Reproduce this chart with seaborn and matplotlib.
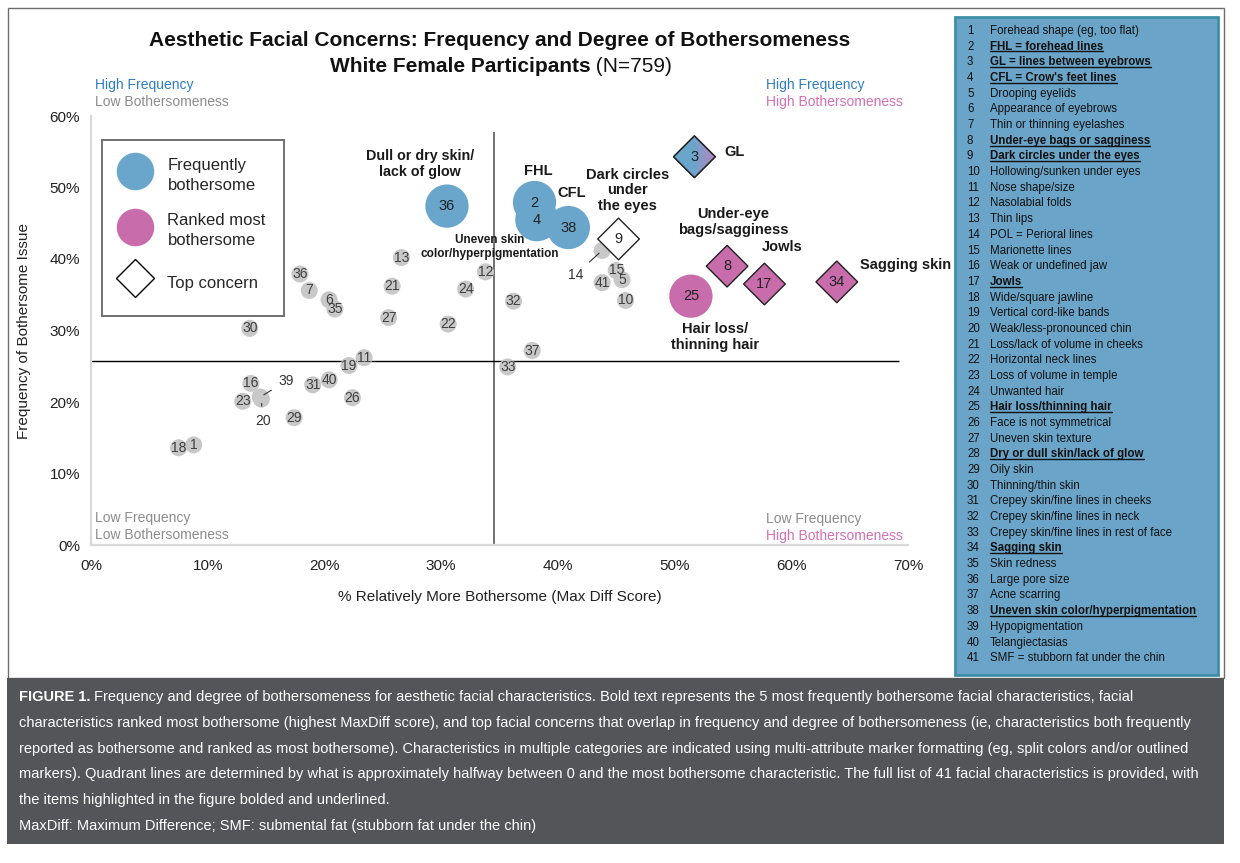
import matplotlib
matplotlib.use('Agg')
import matplotlib.pyplot as plt
import numpy as np
import pandas as pd
import seaborn as sns
from matplotlib import font_manager
from matplotlib.colors import LinearSegmentedColormap
from matplotlib.lines import Line2D
from matplotlib.patches import Rectangle, RegularPolygon
from matplotlib.ticker import FuncFormatter
from matplotlib.transforms import IdentityTransform, ScaledTranslation

W, H = 1240, 863

# ---- values (percent) ----
other_ids = ['1', '5', '6', '7', '10', '11', '12', '13', '14', '15', '16',
             '18', '19', '20', '21', '22', '23', '24', '26', '27', '29', '30',
             '31', '32', '33', '35', '36', '37', '39', '40', '41']
other_x = [8.8, 45.5, 20.4, 18.7, 45.8, 23.4, 33.8, 26.6, 43.8, 45.0, 13.7,
           7.5, 22.1, 14.6, 25.8, 30.6, 13.0, 32.1, 22.4, 25.5, 17.4, 13.6,
           19.0, 36.2, 35.7, 20.9, 17.9, 37.8, 14.5, 20.4, 43.8]
other_y = [14.0, 37.1, 34.3, 35.6, 34.2, 26.2, 38.2, 40.2, 41.2, 38.4, 22.6,
           13.6, 25.1, 20.4, 36.2, 30.9, 20.1, 35.8, 20.6, 31.8, 17.8, 30.3,
           22.4, 34.1, 24.9, 33.0, 37.9, 27.2, 20.7, 23.1, 36.7]

freq_ids = ['36', '2', '4', '38']
freq_x = [30.5, 38.0, 38.2, 40.9]
freq_y = [47.4, 47.9, 45.5, 44.4]

rank_ids = ['25']
rank_x = [51.4]
rank_y = [34.8]

top_ids = ['3', '9', '8', '17', '34']
top_x = [51.7, 45.2, 54.5, 57.7, 63.9]
top_y = [54.3, 42.8, 39.0, 36.5, 36.8]
top_kind = ['both', 'top', 'ranked', 'ranked', 'ranked']

quad_x = 34.5
quad_y = 25.7

characteristics = [
    'Forehead shape (eg, too flat)', 'FHL = forehead lines',
    'GL = lines between eyebrows', "CFL = Crow's feet lines",
    'Drooping eyelids', 'Appearance of eyebrows', 'Thin or thinning eyelashes',
    'Under-eye bags or sagginess', 'Dark circles under the eyes',
    'Hollowing/sunken under eyes', 'Nose shape/size', 'Nasolabial folds',
    'Thin lips', 'POL = Perioral lines', 'Marionette lines',
    'Weak or undefined jaw', 'Jowls', 'Wide/square jawline',
    'Vertical cord-like bands', 'Weak/less-pronounced chin',
    'Loss/lack of volume in cheeks', 'Horizontal neck lines',
    'Loss of volume in temple', 'Unwanted hair', 'Hair loss/thinning hair',
    'Face is not symmetrical', 'Uneven skin texture',
    'Dry or dull skin/lack of glow', 'Oily skin', 'Thinning/thin skin',
    'Crepey skin/fine lines in cheeks', 'Crepey skin/fine lines in neck',
    'Crepey skin/fine lines in rest of face', 'Sagging skin', 'Skin redness',
    'Large pore size', 'Acne scarring', 'Uneven skin color/hyperpigmentation',
    'Hypopigmentation', 'Telangiectasias', 'SMF = stubborn fat under the chin']
highlighted = [2, 3, 4, 8, 9, 17, 25, 28, 34, 38]

caption_lines = [
    'Frequency and degree of bothersomeness for aesthetic facial characteristics. '
    'Bold text represents the 5 most frequently bothersome facial characteristics, facial',
    'characteristics ranked most bothersome (highest MaxDiff score), and top facial concerns '
    'that overlap in frequency and degree of bothersomeness (ie, characteristics both frequently',
    'reported as bothersome and ranked as most bothersome). Characteristics in multiple categories '
    'are indicated using multi-attribute marker formatting (eg, split colors and/or outlined',
    'markers). Quadrant lines are determined by what is approximately halfway between 0 and the '
    'most bothersome characteristic. The full list of 41 facial characteristics is provided, with',
    'the items highlighted in the figure bolded and underlined.',
    'MaxDiff: Maximum Difference; SMF: submental fat (stubborn fat under the chin)']

BLUE = '#6aa6cc'
PINK = '#c96cac'
GRAY = '#c8c8c8'
Q_BLUE = '#2e7dc2'
Q_GRAY = '#8c8c8c'
Q_PINK = '#d36fb5'

sns.set_theme(style='white')
plt.rcParams['font.family'] = ['Liberation Sans', 'DejaVu Sans']

fig = plt.figure(figsize=(W / 100, H / 100), dpi=100)


def fx(x):
    return x / W


def fy(y):
    return 1 - y / H


# frame, list panel and caption band
fig.add_artist(Rectangle((fx(8), fy(678)), fx(1224) - fx(8), fy(8) - fy(678),
                         transform=fig.transFigure, fill=False,
                         edgecolor='#6e6e6e', lw=1))
fig.add_artist(Rectangle((fx(955), fy(675)), fx(1218) - fx(955), fy(17) - fy(675),
                         transform=fig.transFigure, facecolor='#6aa5c9',
                         edgecolor='#3f8fa6', lw=2))
fig.add_artist(Rectangle((fx(7), fy(844)), fx(1224) - fx(7), fy(678) - fy(844),
                         transform=fig.transFigure, facecolor='#545558',
                         edgecolor='none'))

ax = fig.add_axes([fx(91), fy(545), fx(817), 429 / H])
ax.set_facecolor('white')

df_other = pd.DataFrame({'id': other_ids, 'x': other_x, 'y': other_y})
df_freq = pd.DataFrame({'id': freq_ids, 'x': freq_x, 'y': freq_y})
df_rank = pd.DataFrame({'id': rank_ids, 'x': rank_x, 'y': rank_y})
df_top = pd.DataFrame({'id': top_ids, 'x': top_x, 'y': top_y, 'kind': top_kind})

ax.vlines(quad_x, 0, 57.8, color='#595959', lw=1.2, zorder=1)
ax.hlines(quad_y, 0, 69.2, color='black', lw=1, zorder=1)

sns.scatterplot(data=df_other, x='x', y='y', color=GRAY, s=150,
                edgecolor='none', ax=ax, zorder=2)
sns.scatterplot(data=df_freq, x='x', y='y', color=BLUE, s=970,
                edgecolor='none', ax=ax, zorder=3)
sns.scatterplot(data=df_rank, x='x', y='y', color=PINK, s=970,
                edgecolor='none', ax=ax, zorder=3)
sns.scatterplot(data=df_top, x='x', y='y', hue='kind', marker='D', s=450,
                palette={'both': BLUE, 'top': 'white', 'ranked': PINK},
                edgecolor='#222222', linewidth=1, legend=False, ax=ax, zorder=4)

# split-colour marker for the item in both categories
grad_cmap = LinearSegmentedColormap.from_list(
    'split', [(0, BLUE), (0.45, BLUE), (1, '#c77fbf')])
for _, r in df_top[df_top['kind'] == 'both'].iterrows():
    shift = fig.dpi_scale_trans + ScaledTranslation(r['x'], r['y'], ax.transData)
    clip = RegularPolygon((0, 0), 4, radius=14.6 / 72, transform=shift)
    im = ax.imshow(np.linspace(0, 1, 64).reshape(1, -1), cmap=grad_cmap,
                   extent=[r['x'] - 2.2, r['x'] + 2.2, r['y'] - 3.4, r['y'] + 3.4],
                   aspect='auto', interpolation='bilinear', zorder=4.5)
    im.set_clip_path(clip)
    ax.add_artist(RegularPolygon((0, 0), 4, radius=15 / 72, transform=shift,
                                 fill=False, edgecolor='#222222', lw=1, zorder=5))

# point numbers
offset_labels = {'14': (41.5, 37.8), '39': (16.7, 22.9), '20': (14.7, 17.4)}
for _, r in df_other.iterrows():
    if r['id'] in offset_labels:
        ax.annotate(r['id'], xy=(r['x'], r['y']), xytext=offset_labels[r['id']],
                    ha='center', va='center', fontsize=10, color='#333333',
                    arrowprops=dict(arrowstyle='-', color='#333333', lw=0.8,
                                    shrinkA=3, shrinkB=3), zorder=6)
    else:
        ax.text(r['x'], r['y'], r['id'], ha='center', va='center',
                fontsize=10, color='#404040', zorder=6)
for d in (df_freq, df_rank, df_top):
    for _, r in d.iterrows():
        ax.text(r['x'], r['y'], r['id'], ha='center', va='center',
                fontsize=10.5, color='#222222', zorder=6)

# bold call-outs
callouts = [
    ('Dull or dry skin/\nlack of glow', 28.2, 53.3, 10.3),
    ('FHL', 38.3, 52.3, 10.5),
    ('CFL', 41.2, 49.2, 10.5),
    ('Dark circles\nunder\nthe eyes', 46.0, 49.6, 10.5),
    ('GL', 55.1, 55.0, 10.5),
    ('Under-eye\nbags/sagginess', 55.0, 45.2, 10.5),
    ('Jowls', 59.2, 41.7, 10.5),
    ('Sagging skin', 69.8, 39.1, 10.5),
    ('Hair loss/\nthinning hair', 53.5, 29.1, 10.5),
    ('Uneven skin\ncolor/hyperpigmentation', 34.2, 41.7, 8.5),
]
for txt, x, y, size in callouts:
    ax.text(x, y, txt, ha='center', va='center', fontsize=size,
            fontweight='bold', color='#1a1a1a', linespacing=1.15, zorder=7)

# quadrant notes
quads = [
    (0.35, 64.3, 'High Frequency', Q_BLUE), (0.35, 62.0, 'Low Bothersomeness', Q_GRAY),
    (57.8, 64.3, 'High Frequency', Q_BLUE), (57.8, 62.0, 'High Bothersomeness', Q_PINK),
    (0.35, 3.8, 'Low Frequency', Q_GRAY), (0.35, 1.4, 'Low Bothersomeness', Q_GRAY),
    (57.8, 3.6, 'Low Frequency', Q_GRAY), (57.8, 1.3, 'High Bothersomeness', Q_PINK),
]
for x, y, txt, c in quads:
    ax.text(x, y, txt, ha='left', va='center', fontsize=10, color=c,
            clip_on=False)

ax.set_xlim(0, 70)
ax.set_ylim(0, 60)
ax.set_xticks(range(0, 71, 10))
ax.set_yticks(range(0, 61, 10))
pct = FuncFormatter(lambda v, _: f'{v:.0f}%')
ax.xaxis.set_major_formatter(pct)
ax.yaxis.set_major_formatter(pct)
ax.tick_params(axis='both', length=0, labelsize=11, labelcolor='#222222')
ax.tick_params(axis='x', pad=10)
ax.tick_params(axis='y', pad=8)
for side in ('top', 'right'):
    ax.spines[side].set_visible(False)
for side in ('left', 'bottom'):
    ax.spines[side].set_color('#d9d9d9')
    ax.spines[side].set_linewidth(1.6)
ax.set_xlabel('% Relatively More Bothersome (Max Diff Score)', fontsize=11,
              color='#222222', labelpad=12)
ax.set_ylabel('Frequency of Bothersome Issue', fontsize=11,
              color='#222222', labelpad=13)

handles = [
    Line2D([], [], ls='', marker='o', markersize=27, markerfacecolor=BLUE,
           markeredgecolor='none'),
    Line2D([], [], ls='', marker='o', markersize=27, markerfacecolor=PINK,
           markeredgecolor='none'),
    Line2D([], [], ls='', marker='D', markersize=19.5, markerfacecolor='white',
           markeredgecolor='black', markeredgewidth=1),
]
leg = ax.legend(handles, ['Frequently\nbothersome', 'Ranked most\nbothersome', 'Top concern'],
                loc='upper left', bbox_to_anchor=(0.013, 0.944), borderaxespad=0,
                fontsize=12, frameon=True, fancybox=False, borderpad=1.1,
                handlelength=1.75, handleheight=2.35, handletextpad=1.1,
                labelspacing=1.25)
for t in leg.get_texts():
    t.set_linespacing(1.35)
leg.get_frame().set_edgecolor('#404040')
leg.get_frame().set_linewidth(1.3)
leg.get_frame().set_facecolor('white')
leg.set_zorder(8)

# title
fig.text(fx(500), fy(40), 'Aesthetic Facial Concerns: Frequency and Degree of Bothersomeness',
         ha='center', va='center', fontsize=15, fontweight='bold', color='#111111')
t_bold = fig.text(0, fy(66), 'White Female Participants', ha='left', va='center',
                  fontsize=15, fontweight='bold', color='#111111')
t_reg = fig.text(0, fy(66), ' (N=759)', ha='left', va='center', fontsize=15,
                 color='#111111')

# list of characteristics
list_items = []
for i, name in enumerate(characteristics):
    y = fy(31 + i * 15.68)
    num = i + 1
    fig.text(fx(967), y, str(num), ha='left', va='center', fontsize=8.3,
             color='#111111')
    t = fig.text(fx(990), y, name, ha='left', va='center', fontsize=8.3,
                 color='#111111',
                 fontweight='bold' if num in highlighted else 'normal')
    if num in highlighted:
        list_items.append(t)

# caption
names = {f.name for f in font_manager.fontManager.ttflist}
cap_family = 'Liberation Sans Narrow' if 'Liberation Sans Narrow' in names else 'Liberation Sans'

fig.canvas.draw()
renderer = fig.canvas.get_renderer()

wb = t_bold.get_window_extent(renderer).width
wr = t_reg.get_window_extent(renderer).width
x0 = 501 - (wb + wr) / 2
t_bold.set_x(fx(x0))
t_reg.set_x(fx(x0 + wb))

probe = fig.text(0, 0, caption_lines[2], fontsize=10, family=cap_family)
cap_size = 10 * 1163 / probe.get_window_extent(renderer).width
probe.remove()

head = fig.text(fx(19), fy(697), 'FIGURE 1.', ha='left', va='center',
                fontsize=cap_size, fontweight='bold', color='white',
                family=cap_family)
hw = head.get_window_extent(renderer).width
for i, line in enumerate(caption_lines):
    x = 19 + hw + cap_size * 0.3 if i == 0 else 19
    fig.text(fx(x), fy(697 + i * 25.8), line, ha='left', va='center',
             fontsize=cap_size, color='white', family=cap_family)

for t in list_items:
    bb = t.get_window_extent(renderer)
    fig.add_artist(Line2D([bb.x0, bb.x1], [bb.y0 + 1.2] * 2, color='#111111',
                          lw=1, transform=IdentityTransform()))

fig.savefig('out.png', dpi=100)
